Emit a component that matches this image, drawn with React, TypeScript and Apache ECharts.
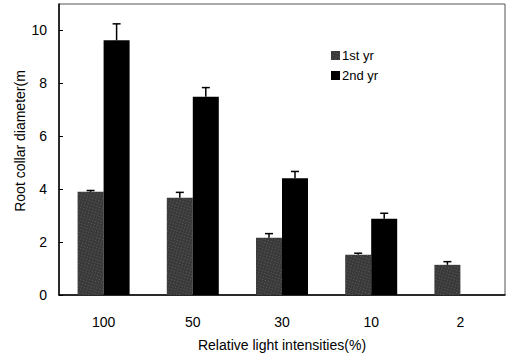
import React, { useEffect, useRef } from "react";
import * as echarts from "echarts";

const categories = ["100", "50", "30", "10", "2"];
const firstYr = [3.9, 3.68, 2.16, 1.52, 1.14];
const firstYrErr = [0.05, 0.2, 0.16, 0.06, 0.12];
const secondYr = [9.63, 7.49, 4.41, 2.88, 0];
const secondYrErr = [0.62, 0.35, 0.26, 0.21, 0];
const seriesNames = ["1st yr", "2nd yr"];
const yTitle = "Root collar diameter(m";
const xTitle = "Relative light intensities(%)";

const BAR_W = 26;

function errorSeries(name: string, vals: number[], errs: number[], offset: number) {
  return {
    type: "custom",
    name: name + " err",
    silent: true,
    z: 5,
    data: vals.map((v, i) => [i, v, errs[i]]),
    renderItem: (params: any, api: any) => {
      const i = api.value(0);
      const v = api.value(1);
      const e = api.value(2);
      if (!e) return null;
      const p0 = api.coord([i, v]);
      const p1 = api.coord([i, v + e]);
      const x = p0[0] + offset;
      return {
        type: "group",
        children: [
          { type: "line", shape: { x1: x, y1: p0[1], x2: x, y2: p1[1] }, style: { stroke: "#000", lineWidth: 1.5 } },
          { type: "line", shape: { x1: x - 4, y1: p1[1], x2: x + 4, y2: p1[1] }, style: { stroke: "#000", lineWidth: 1.5 } },
        ],
      };
    },
  };
}

export default function App() {
  const ref = useRef<HTMLDivElement>(null);
  useEffect(() => {
    const chart = echarts.init(ref.current!, null, { renderer: "svg" });
    chart.setOption({
      animation: false,
      backgroundColor: "#fff",
      textStyle: { fontFamily: "Liberation Sans, Arial, sans-serif" },
      grid: { left: 59, right: 1, top: 4, bottom: 57, show: true, borderColor: "#555", borderWidth: 1 },
      legend: {
        orient: "vertical",
        left: 326,
        top: 44,
        icon: "rect",
        itemWidth: 9,
        itemHeight: 9,
        itemGap: 7,
        data: seriesNames,
        textStyle: { fontSize: 13, color: "#000", padding: [0, 0, 0, -3] },
      },
      graphic: [
        {
          type: "text",
          x: 20,
          y: 141,
          rotation: Math.PI / 2,
          style: {
            text: yTitle,
            fontSize: 14,
            fill: "#000",
            align: "center",
            verticalAlign: "middle",
            fontFamily: "Liberation Sans, Arial, sans-serif",
          },
        },
      ],
      xAxis: {
        type: "category",
        data: categories,
        name: xTitle,
        nameLocation: "middle",
        nameGap: 43,
        nameTextStyle: { fontSize: 14, color: "#000" },
        axisLine: { lineStyle: { color: "#000", width: 1.5 } },
        axisTick: { inside: true, length: 3, lineStyle: { color: "#000" } },
        axisLabel: { margin: 20, fontSize: 14, color: "#000" },
      },
      yAxis: {
        type: "value",
        min: 0,
        max: 11,
        interval: 2,
        splitLine: { show: false },
        axisLine: { show: true, lineStyle: { color: "#000", width: 1.5 } },
        axisTick: { show: true, inside: true, length: 4, lineStyle: { color: "#000" } },
        axisLabel: { margin: 12, fontSize: 14, color: "#000", showMaxLabel: false },
      },
      series: [
        {
          type: "bar",
          name: seriesNames[0],
          data: firstYr,
          barWidth: BAR_W,
          barGap: "0%",
          itemStyle: {
            color: "#3a3a3a",
            decal: {
              symbol: "rect",
              symbolSize: 0.6,
              color: "rgba(255,255,255,0.6)",
              dashArrayX: [1, 2],
              dashArrayY: [1, 2],
              rotation: 0.3,
            },
          },
        },
        {
          type: "bar",
          name: seriesNames[1],
          data: secondYr,
          barWidth: BAR_W,
          barGap: "0%",
          itemStyle: { color: "#000" },
        },
        errorSeries(seriesNames[0], firstYr, firstYrErr, -BAR_W / 2),
        errorSeries(seriesNames[1], secondYr, secondYrErr, BAR_W / 2),
      ],
    });
    return () => chart.dispose();
  }, []);
  return <div ref={ref} style={{ width: 506, height: 357, position: "absolute", left: 0, top: 0 }} />;
}
